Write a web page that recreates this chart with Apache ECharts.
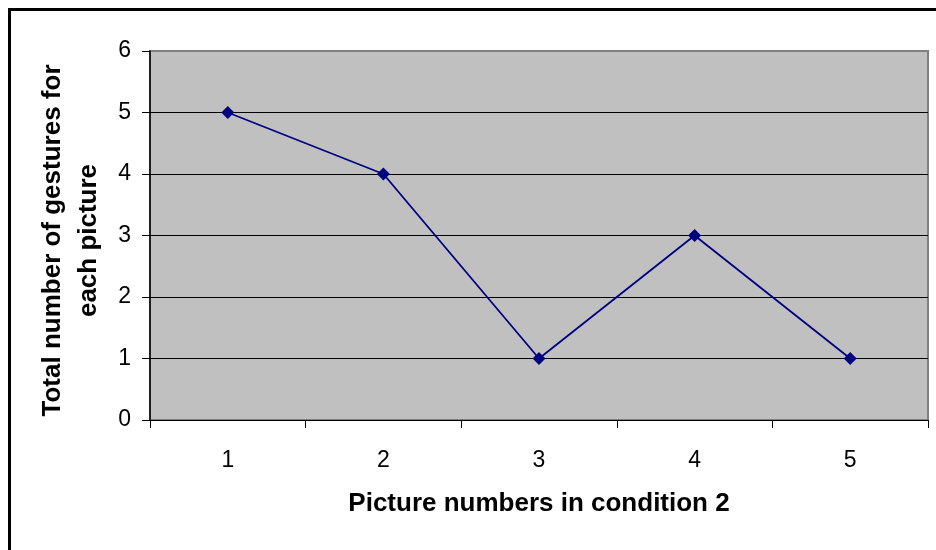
<!DOCTYPE html>
<html>
<head>
<meta charset="utf-8">
<script src="https://cdn.jsdelivr.net/npm/echarts@6/dist/echarts.min.js"></script>
<style>
html,body{margin:0;padding:0;background:#fff;}
#c{width:936px;height:550px;}
</style>
</head>
<body>
<div id="c"></div>
<script>
const categories = ['1', '2', '3', '4', '5'];
const gestures = [5, 4, 1, 3, 1];
const yTicks = { min: 0, max: 6, interval: 1 };
const xTitle = 'Picture numbers in condition 2';
const yTitle = 'Total number of gestures for\neach picture';

const FONT = '"Liberation Sans", Arial, sans-serif';
const chart = echarts.init(document.getElementById('c'));
chart.setOption({
  backgroundColor: '#ffffff',
  animation: false,
  graphic: [{
    type: 'rect',
    shape: { x: 9.5, y: 9.5, width: 1000, height: 1000 },
    style: { fill: 'none', stroke: '#000', lineWidth: 3 },
    silent: true
  }],
  grid: {
    left: 150, top: 51, right: 8, bottom: 130,
    show: true, backgroundColor: '#C0C0C0', borderColor: '#808080', borderWidth: 2
  },
  xAxis: {
    type: 'category',
    data: categories,
    boundaryGap: true,
    axisLine: { show: true, lineStyle: { color: '#000', width: 1 } },
    axisTick: { show: true, length: 8, alignWithLabel: false, lineStyle: { color: '#000' } },
    axisLabel: { color: '#000', fontFamily: FONT, fontSize: 23, margin: 29 },
    splitLine: { show: false },
    name: xTitle,
    nameLocation: 'middle',
    nameGap: 71,
    nameTextStyle: { color: '#000', fontFamily: FONT, fontSize: 26, fontWeight: 'bold' }
  },
  yAxis: {
    type: 'value',
    min: yTicks.min, max: yTicks.max, interval: yTicks.interval,
    axisLine: { show: true, lineStyle: { color: '#000', width: 1.5 } },
    axisTick: { show: true, length: 8, lineStyle: { color: '#000' } },
    axisLabel: { color: '#000', fontFamily: FONT, fontSize: 23, margin: 19 },
    splitLine: { show: true, showMinLine: false, showMaxLine: false, lineStyle: { color: '#000', width: 1 } },
    name: yTitle,
    nameLocation: 'middle',
    nameRotate: 90,
    nameGap: 42,
    nameTextStyle: { color: '#000', fontFamily: FONT, fontSize: 26, fontWeight: 'bold', lineHeight: 36, padding: [0, 10, 0, 0] }
  },
  series: [{
    type: 'line',
    data: gestures,
    symbol: 'diamond',
    symbolSize: 13,
    lineStyle: { color: '#000080', width: 1.8 },
    itemStyle: { color: '#000080' }
  }]
});
</script>
</body>
</html>
